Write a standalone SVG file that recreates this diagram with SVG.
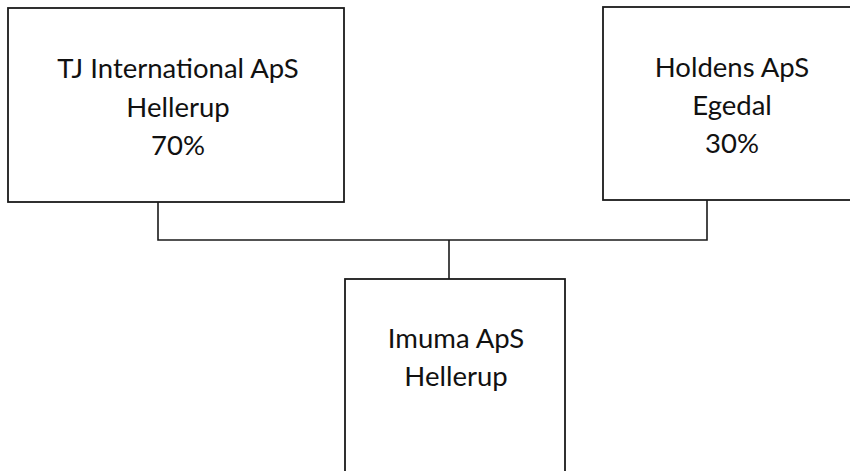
<svg xmlns="http://www.w3.org/2000/svg" width="850" height="471" viewBox="0 0 850 471">
<style>
.box{fill:#fff;stroke:#1a1a1a;stroke-width:1.8}
.ln{fill:none;stroke:#1a1a1a;stroke-width:1.6}
text{font-family:Lato,"Open Sans","Liberation Sans",sans-serif;font-size:27.5px;fill:#111;text-anchor:middle}
</style>
<rect width="850" height="471" fill="#fff"/>
<g id="connectors">
<path class="ln" d="M158,202 V240 H707 V200"/>
<path class="ln" d="M449,240 V279"/>
</g>
<g id="tj">
<rect class="box" x="8" y="8" width="336" height="194"/>
<text x="178" y="78">TJ International ApS</text>
<text x="178" y="117">Hellerup</text>
<text x="178" y="155">70%</text>
</g>
<g id="holdens">
<rect class="box" x="603" y="7" width="258" height="193"/>
<text x="732" y="77">Holdens ApS</text>
<text x="732" y="115">Egedal</text>
<text x="732" y="153">30%</text>
</g>
<g id="imuma">
<rect class="box" x="345" y="279" width="220" height="200"/>
<text x="456" y="348">Imuma ApS</text>
<text x="456" y="386">Hellerup</text>
</g>
</svg>
